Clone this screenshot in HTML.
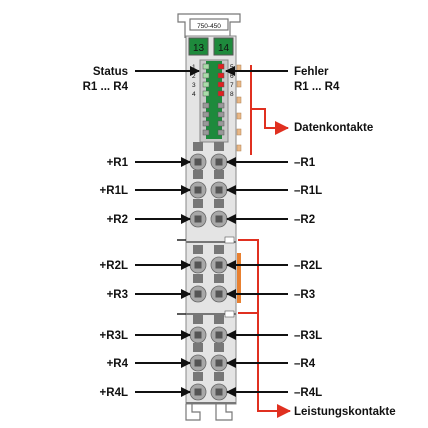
<!DOCTYPE html>
<html><head><meta charset="utf-8"><style>
html,body{margin:0;padding:0;background:#fff}
svg{display:block}
text{font-family:"Liberation Sans",sans-serif;fill:#111}
</style></head><body>
<svg width="428" height="428" viewBox="0 0 428 428">
<defs>
<marker id="ab" markerWidth="10" markerHeight="10" refX="9" refY="5" orient="auto" markerUnits="userSpaceOnUse"><path d="M0,0L10,5L0,10z" fill="#111"/></marker>
<marker id="ar" markerWidth="14" markerHeight="14" refX="13" refY="7" orient="auto" markerUnits="userSpaceOnUse"><path d="M0,0L14,7L0,14z" fill="#e03020"/></marker>
</defs>
<g fill="none" stroke="#777" stroke-width="1.2">
<path d="M185,38 V22 H178 V14 H240 V22 H230 V38"/>
<rect x="190" y="19" width="38" height="11" fill="#fff"/>
</g>
<text x="209" y="28" font-size="6.5" text-anchor="middle">750-450</text>
<rect x="186" y="36" width="50" height="368" fill="#e4e4e4" stroke="#888"/>
<rect x="189" y="38" width="19" height="17" fill="#1e8a3c" stroke="#555"/>
<rect x="214" y="38" width="19" height="17" fill="#1e8a3c" stroke="#555"/>
<text x="198.5" y="51" font-size="10" text-anchor="middle">13</text>
<text x="223.5" y="51" font-size="10" text-anchor="middle">14</text>
<rect x="200" y="60" width="28" height="82" fill="#c8c8c8" stroke="#888"/>
<rect x="206" y="61" width="16" height="78" fill="#1e8a3c"/>
<g stroke="#555" stroke-width="0.5">
<rect x="203" y="64" width="6" height="5" fill="#a8dca8"/><rect x="218" y="64" width="6" height="5" fill="#e02020"/>
<rect x="203" y="73" width="6" height="5" fill="#a8dca8"/><rect x="218" y="73" width="6" height="5" fill="#e02020"/>
<rect x="203" y="82" width="6" height="5" fill="#a8dca8"/><rect x="218" y="82" width="6" height="5" fill="#e02020"/>
<rect x="203" y="91" width="6" height="5" fill="#a8dca8"/><rect x="218" y="91" width="6" height="5" fill="#e02020"/>
<rect x="203" y="103" width="6" height="5" fill="#999"/><rect x="218" y="103" width="6" height="5" fill="#999"/>
<rect x="203" y="112" width="6" height="5" fill="#999"/><rect x="218" y="112" width="6" height="5" fill="#999"/>
<rect x="203" y="121" width="6" height="5" fill="#999"/><rect x="218" y="121" width="6" height="5" fill="#999"/>
<rect x="203" y="130" width="6" height="5" fill="#999"/><rect x="218" y="130" width="6" height="5" fill="#999"/>
</g>
<g font-size="6.5">
<text x="192" y="69">1</text><text x="192" y="78">2</text><text x="192" y="87">3</text><text x="192" y="96">4</text>
<text x="230" y="69">5</text><text x="230" y="78">6</text><text x="230" y="87">7</text><text x="230" y="96">8</text>
</g>
<g fill="#e8b888" stroke="#b08050" stroke-width="0.5">
<rect x="237" y="65" width="4" height="6"/><rect x="237" y="81" width="4" height="6"/><rect x="237" y="97" width="4" height="6"/><rect x="237" y="113" width="4" height="6"/><rect x="237" y="129" width="4" height="6"/><rect x="237" y="145" width="4" height="6"/>
</g>
<rect x="237" y="253" width="4" height="50" fill="#e88030"/>
<line x1="177" y1="240" x2="186" y2="240" stroke="#222" stroke-width="1.5"/>
<line x1="177" y1="314" x2="186" y2="314" stroke="#222" stroke-width="1.5"/>
<line x1="186" y1="242" x2="236" y2="242" stroke="#777" stroke-width="2"/>
<line x1="186" y1="314" x2="236" y2="314" stroke="#777" stroke-width="2"/>
<line x1="186" y1="403" x2="236" y2="403" stroke="#777" stroke-width="2"/>
<rect x="225" y="237" width="9" height="6" fill="#fff" stroke="#555" stroke-width="0.6"/>
<rect x="225" y="311" width="9" height="6" fill="#fff" stroke="#555" stroke-width="0.6"/>
<g fill="none" stroke="#777" stroke-width="1.2">
<path d="M186,404 V420 H200 V412 H192 V404"/>
<path d="M216,404 V420 H232 V412 H226 V404"/>
</g>
<g id="terms"></g>
<g stroke="#e03020" stroke-width="2" fill="none">
<path d="M251,65 V155"/>
<path d="M251,109 H265 V128 H288" marker-end="url(#ar)"/>
<path d="M238,240 H258 V411 H290" marker-end="url(#ar)"/>
<path d="M238,313 H258"/>
</g>
<g font-size="11.5" font-weight="bold">
<text x="128" y="75" text-anchor="end">Status</text>
<text x="128" y="90" text-anchor="end">R1 ... R4</text>
<text x="294" y="75">Fehler</text>
<text x="294" y="90">R1 ... R4</text>
<text x="294" y="131">Datenkontakte</text>
<text x="294" y="415">Leistungskontakte</text>
</g>
<g stroke="#111" stroke-width="2">
<line x1="135" y1="71" x2="199" y2="71" marker-end="url(#ab)"/>
<line x1="288" y1="71" x2="226" y2="71" marker-end="url(#ab)"/>
</g>
<g id="pins" font-size="11.5" font-weight="bold"></g>
</svg>
<script>
const rowsY=[162,190,219,265,294,335,363,392];
const leftLabels=["+R1","+R1L","+R2","+R2L","+R3","+R3L","+R4","+R4L"];
const rightLabels=["\u2013R1","\u2013R1L","\u2013R2","\u2013R2L","\u2013R3","\u2013R3L","\u2013R4","\u2013R4L"];
const NS="http://www.w3.org/2000/svg";
const terms=document.getElementById('terms'),pins=document.getElementById('pins');
function mk(tag,a,p){const e=document.createElementNS(NS,tag);for(const k in a)e.setAttribute(k,a[k]);p.appendChild(e);return e;}
rowsY.forEach((y,i)=>{
  [198,219].forEach(x=>{
    mk('rect',{x:x-5,y:y-20,width:10,height:9,fill:'#777'},terms);
    const c=mk('circle',{cx:x,cy:y,r:8,fill:'#a8a8a8',stroke:'#666','stroke-width':0.8},terms);
    
    
    mk('rect',{x:x-3.5,y:y-3.5,width:7,height:7,fill:'#555'},terms);
  });
  const l=mk('text',{x:128,y:y+4,'text-anchor':'end'},pins);l.textContent=leftLabels[i];
  
  
  const r=mk('text',{x:294,y:y+4},pins);r.textContent=rightLabels[i];
  
  
  const a1=mk('line',{x1:135,y1:y,x2:190,y2:y,stroke:'#111','stroke-width':2,'marker-end':'url(#ab)'},pins);
  
  
  const a2=mk('line',{x1:288,y1:y,x2:227,y2:y,stroke:'#111','stroke-width':2,'marker-end':'url(#ab)'},pins);
  
  
});
</script>
</body></html>
